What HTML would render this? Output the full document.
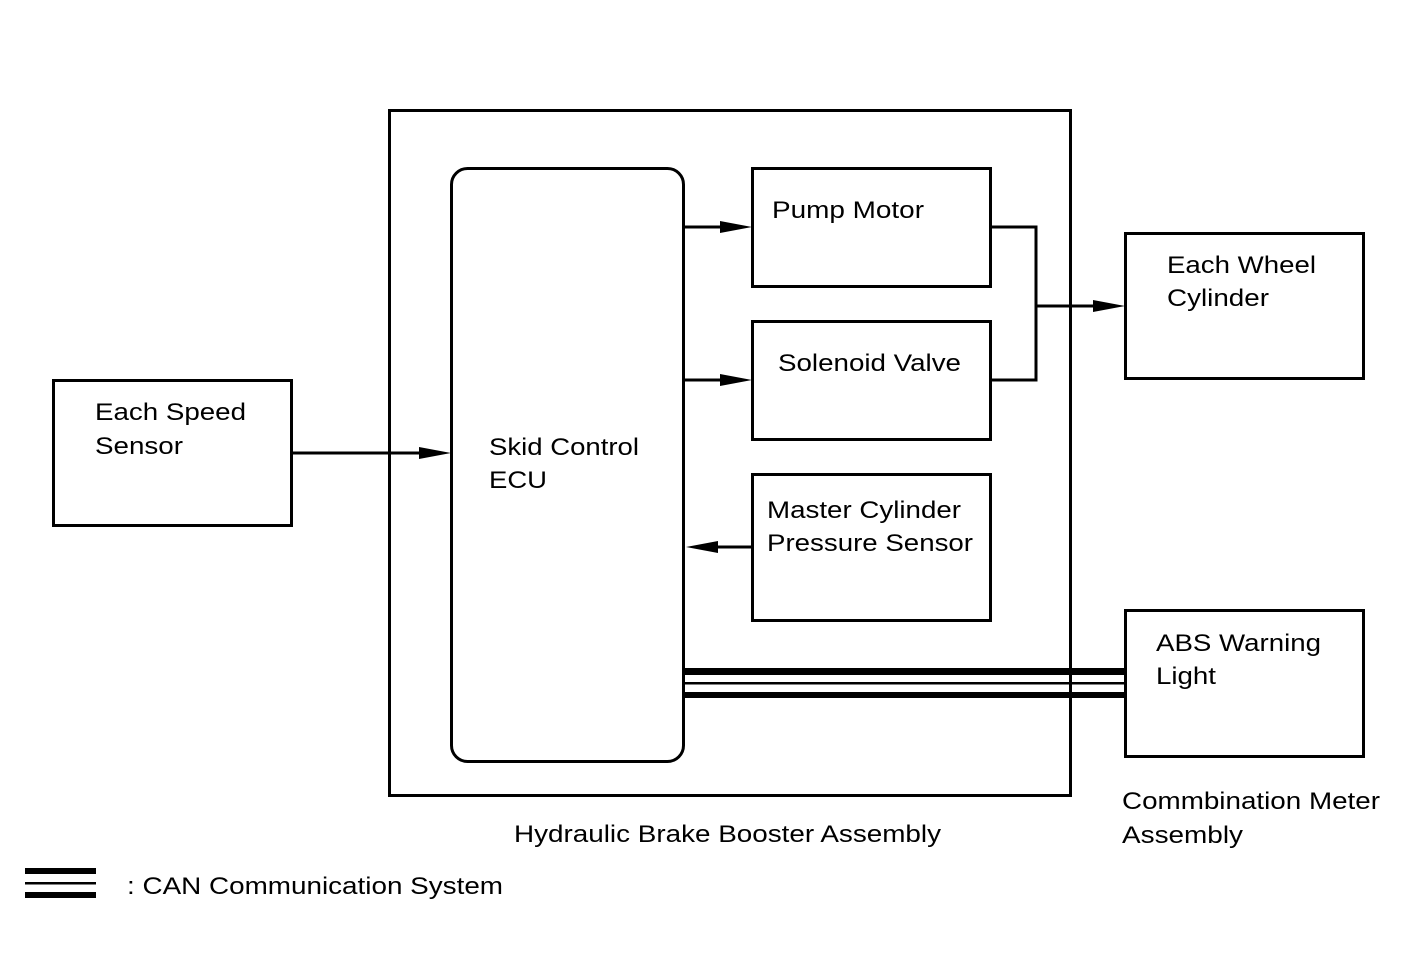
<!DOCTYPE html>
<html><head><meta charset="utf-8"><style>
html,body{margin:0;padding:0;background:#fff;}
svg{display:block;}
text{font-family:"Liberation Sans",Arial,sans-serif;font-size:24px;fill:#000;}
</style></head><body>
<svg width="1424" height="959" viewBox="0 0 1424 959" xmlns="http://www.w3.org/2000/svg">
<g fill="none" stroke="#000" stroke-width="3">
<rect x="389.5" y="110.5" width="681" height="685"/>
<rect x="451.5" y="168.5" width="232" height="593" rx="16"/>
<rect x="752.5" y="168.5" width="238" height="118"/>
<rect x="752.5" y="321.5" width="238" height="118"/>
<rect x="752.5" y="474.5" width="238" height="146"/>
<rect x="1125.5" y="233.5" width="238" height="145"/>
<rect x="1125.5" y="610.5" width="238" height="146"/>
<rect x="53.5" y="380.5" width="238" height="145"/>
<line x1="684" y1="227" x2="725" y2="227"/>
<line x1="684" y1="380" x2="725" y2="380"/>
<line x1="718" y1="547" x2="752" y2="547"/>
<line x1="292" y1="453" x2="425" y2="453"/>
<polyline points="991,227 1036,227 1036,380 991,380"/>
<line x1="1036" y1="306" x2="1098" y2="306"/>
</g>
<g fill="#000">
<polygon points="720,221 752,227 720,233"/>
<polygon points="720,374 752,380 720,386"/>
<polygon points="718,541 686,547 718,553"/>
<polygon points="419,447 451,453 419,459"/>
<polygon points="1093,300 1125,306 1093,312"/>
<rect x="684" y="668" width="441" height="7"/>
<rect x="684" y="682" width="441" height="2.5"/>
<rect x="684" y="692" width="441" height="6"/>
<rect x="25" y="868" width="71" height="6"/>
<rect x="25" y="882" width="71" height="2.5"/>
<rect x="25" y="892" width="71" height="6"/>
</g>
<g>
<text x="772" y="218" textLength="152" lengthAdjust="spacingAndGlyphs">Pump Motor</text>
<text x="778" y="371" textLength="183" lengthAdjust="spacingAndGlyphs">Solenoid Valve</text>
<text x="767" y="518" textLength="194" lengthAdjust="spacingAndGlyphs">Master Cylinder</text>
<text x="767" y="551" textLength="206" lengthAdjust="spacingAndGlyphs">Pressure Sensor</text>
<text x="489" y="455" textLength="150" lengthAdjust="spacingAndGlyphs">Skid Control</text>
<text x="489" y="488" textLength="58" lengthAdjust="spacingAndGlyphs">ECU</text>
<text x="95" y="420" textLength="151" lengthAdjust="spacingAndGlyphs">Each Speed</text>
<text x="95" y="454" textLength="88" lengthAdjust="spacingAndGlyphs">Sensor</text>
<text x="1167" y="273" textLength="149" lengthAdjust="spacingAndGlyphs">Each Wheel</text>
<text x="1167" y="306" textLength="102" lengthAdjust="spacingAndGlyphs">Cylinder</text>
<text x="1156" y="651" textLength="165" lengthAdjust="spacingAndGlyphs">ABS Warning</text>
<text x="1156" y="684" textLength="60" lengthAdjust="spacingAndGlyphs">Light</text>
<text x="1122" y="809" textLength="258" lengthAdjust="spacingAndGlyphs">Commbination Meter</text>
<text x="1122" y="843" textLength="121" lengthAdjust="spacingAndGlyphs">Assembly</text>
<text x="514" y="842" textLength="427" lengthAdjust="spacingAndGlyphs">Hydraulic Brake Booster Assembly</text>
<text x="127" y="894" textLength="376" lengthAdjust="spacingAndGlyphs">: CAN Communication System</text>
</g>
</svg>
</body></html>
